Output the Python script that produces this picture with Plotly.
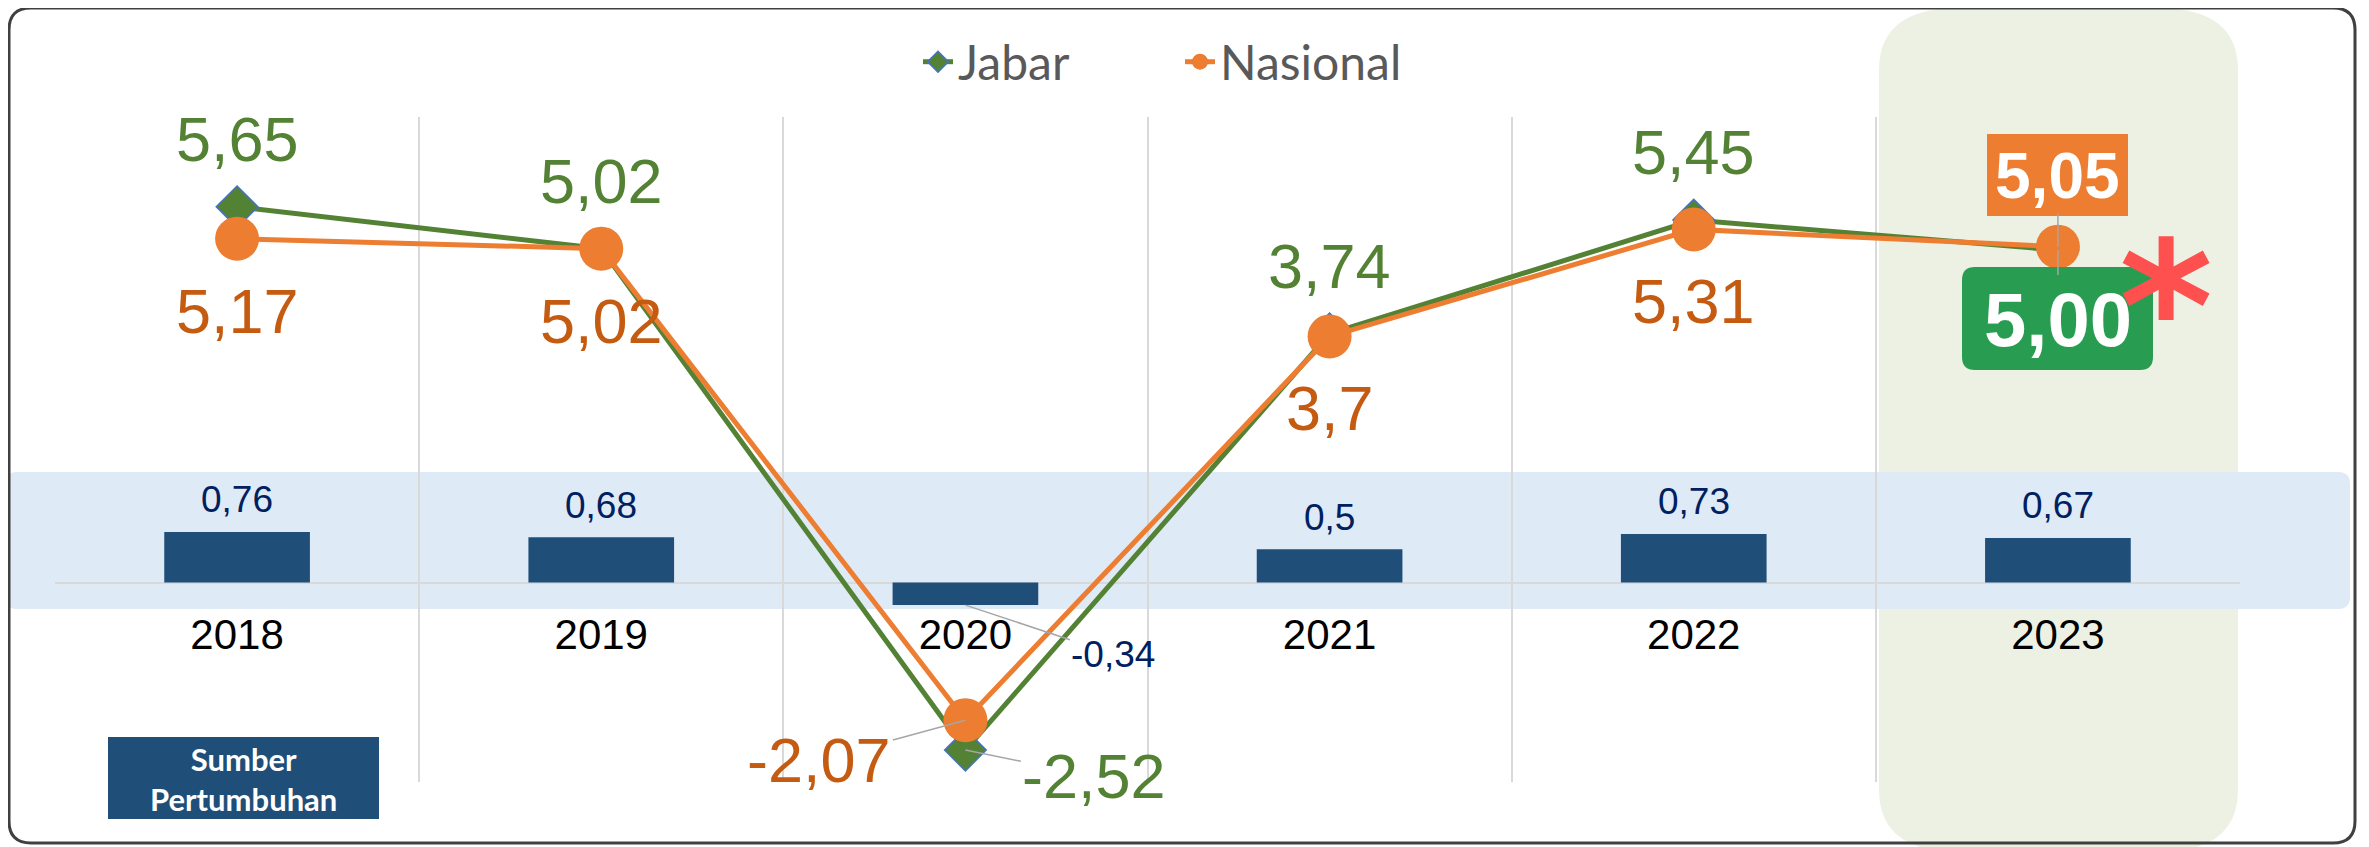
import plotly.graph_objects as go

# ---------------- data ----------------
years = ["2018", "2019", "2020", "2021", "2022", "2023"]
jabar = [5.65, 5.02, -2.52, 3.74, 5.45, 5.00]
nasional = [5.17, 5.02, -2.07, 3.7, 5.31, 5.05]
sumber = [0.76, 0.68, -0.34, 0.5, 0.73, 0.67]
series_names = ["Jabar", "Nasional"]
source_label = "Sumber<br>Pertumbuhan"

# ---------------- styling ----------------
OFF = 8                      # page body margin
W, H = 2369 - OFF, 847 - OFF
L, R, T, B = 55, 2240, 117, 782   # plot area in page px

GREEN = "#548235"
ORANGE = "#ED7D31"
ORANGE_TXT = "#C55A11"
NAVY = "#1F4E79"
NAVY_TXT = "#002060"
GRID = "#D9D9D9"
FONT = "Liberation Sans"


def fx(p):
    return (p - L) / (R - L)


def fy(p):
    return (B - p) / (B - T)


def rrect(x0, y0, x1, y1, rx, ry):
    def P(x, y):
        return f"{fx(x):.5f},{fy(y):.5f}"
    return (f"M{P(x0 + rx, y0)} L{P(x1 - rx, y0)} Q{P(x1, y0)} {P(x1, y0 + ry)} "
            f"L{P(x1, y1 - ry)} Q{P(x1, y1)} {P(x1 - rx, y1)} L{P(x0 + rx, y1)} "
            f"Q{P(x0, y1)} {P(x0, y1 - ry)} L{P(x0, y0 + ry)} Q{P(x0, y0)} {P(x0 + rx, y0)} Z")


def fmt(v, d=None):
    s = f"{v:.{d}f}" if d is not None else str(v)
    return s.replace(".", ",")


fig = go.Figure()

fig.add_trace(go.Bar(
    x=years, y=sumber, width=0.4, marker=dict(color=NAVY, line=dict(width=0)),
    showlegend=False, hoverinfo="skip"))

fig.add_trace(go.Scatter(
    x=years, y=jabar, name=series_names[0], mode="lines+markers",
    line=dict(color=GREEN, width=5),
    marker=dict(symbol="diamond", size=32, color=GREEN, line=dict(color="#4472C4", width=1.5))))

fig.add_trace(go.Scatter(
    x=years, y=nasional, name=series_names[1], mode="lines+markers",
    line=dict(color=ORANGE, width=5),
    marker=dict(symbol="circle", size=44, color=ORANGE, line=dict(width=0))))

# carrier for the category labels drawn at the zero line
fig.add_trace(go.Scatter(x=years, y=sumber, xaxis="x2", mode="none",
                         showlegend=False, hoverinfo="skip"))

ann = []
LBL = 63
LEADER = dict(showarrow=True, arrowhead=0, arrowwidth=1.5, arrowcolor="#A6A6A6")
for i, yr in enumerate(years):
    # bar labels (x given as category index)
    if sumber[i] >= 0:
        ann.append(dict(x=i, y=sumber[i], text=fmt(sumber[i]), showarrow=False, yshift=32,
                        xanchor="center", yanchor="middle",
                        font=dict(family=FONT, size=37, color=NAVY_TXT)))
    else:
        ann.append(dict(x=i, y=sumber[i], text=fmt(sumber[i]), ax=148, ay=49, **LEADER,
                        font=dict(family=FONT, size=37, color=NAVY_TXT)))
    if i == 2:
        ann.append(dict(x=i, y=jabar[i], text=fmt(jabar[i]), ax=129, ay=26, **LEADER,
                        font=dict(family=FONT, size=LBL, color=GREEN)))
        ann.append(dict(x=i, y=nasional[i], text=fmt(nasional[i]), ax=-146, ay=40, **LEADER,
                        font=dict(family=FONT, size=LBL, color=ORANGE_TXT)))
    elif i == len(years) - 1:
        ann.append(dict(x=i, y=nasional[i], text="<b>" + fmt(nasional[i], 2) + "</b>",
                        ax=0, ay=-71, **LEADER,
                        font=dict(family=FONT, size=64, color="white")))
        ann.append(dict(x=i, y=jabar[i], text="<b>" + fmt(jabar[i], 2) + "</b>",
                        ax=0, ay=69, **LEADER,
                        font=dict(family=FONT, size=76, color="white")))
        ann.append(dict(x=i, y=jabar[i], text="<b>*</b>", showarrow=False, xshift=108, yshift=-57,
                        xanchor="center", yanchor="middle",
                        font=dict(family="DejaVu Sans", size=180, color="#FF5050")))
    else:
        ann.append(dict(x=i, y=jabar[i], text=fmt(jabar[i]), showarrow=False, yshift=68,
                        xanchor="center", yanchor="middle",
                        font=dict(family=FONT, size=LBL, color=GREEN)))
        ann.append(dict(x=i, y=nasional[i], text=fmt(nasional[i]), showarrow=False, yshift=-72,
                        xanchor="center", yanchor="middle",
                        font=dict(family=FONT, size=LBL, color=ORANGE_TXT)))

# source label box text
ann.append(dict(xref="paper", yref="paper", x=fx(243.5), y=fy(779), text="<b>" + source_label + "</b>",
                showarrow=False, xanchor="center", yanchor="middle",
                font=dict(family="Lato", size=31, color="white")))

shapes = [
    dict(type="path", xref="paper", yref="paper", layer="below",
         path=rrect(1879, 8, 2238, 852, 80, 62), fillcolor="#EDF1E4", line=dict(width=0)),
    dict(type="path", xref="paper", yref="paper", layer="below",
         path=rrect(5, 472, 2350, 609, 12, 12), fillcolor="#DEEAF6", line=dict(width=0)),
    dict(type="path", xref="paper", yref="paper", layer="below",
         path=rrect(9, 8, 2355, 843, 22, 22), fillcolor="rgba(0,0,0,0)",
         line=dict(color="#404040", width=3)),
    dict(type="path", xref="paper", yref="paper", layer="below",
         path=rrect(108, 737, 379, 819, 0.1, 0.1), fillcolor=NAVY, line=dict(width=0)),
    dict(type="path", xref="paper", yref="paper", layer="above",
         path=rrect(1962, 267, 2153, 370, 13, 13), fillcolor="#289D52", line=dict(width=0)),
    dict(type="path", xref="paper", yref="paper", layer="above",
         path=rrect(1987, 134, 2128, 216, 0.1, 0.1), fillcolor=ORANGE, line=dict(width=0)),
]

fig.update_layout(
    width=W, height=H,
    margin=dict(l=L - OFF, r=2369 - R, t=T - OFF, b=847 - B, pad=0),
    paper_bgcolor="white", plot_bgcolor="rgba(0,0,0,0)",
    barmode="overlay",
    showlegend=True,
    legend=dict(orientation="h", x=fx(1180), y=fy(62), xanchor="center", yanchor="middle",
                font=dict(family="Lato", size=48, color="#595959"),
                bgcolor="rgba(0,0,0,0)", entrywidth=217, entrywidthmode="pixels"),
    xaxis=dict(type="category", categoryorder="array", categoryarray=years,
               range=[-0.5, 5.5], tickson="boundaries", showgrid=True, gridcolor=GRID, gridwidth=1.5,
               ticks="", showline=False, zeroline=False, showticklabels=False),
    xaxis2=dict(type="category", categoryorder="array", categoryarray=years, overlaying="x",
                range=[-0.5, 5.5], showgrid=False, anchor="free", position=fy(582),
                ticks="", showline=False, zeroline=False, ticklabelstandoff=24,
                tickfont=dict(family=FONT, size=42, color="black")),
    yaxis=dict(range=[-3, 7], showgrid=False, zeroline=True, zerolinecolor=GRID, zerolinewidth=2,
               showticklabels=False, ticks="", showline=False),
    annotations=ann,
    shapes=shapes,
)

fig.write_html("out.html")
